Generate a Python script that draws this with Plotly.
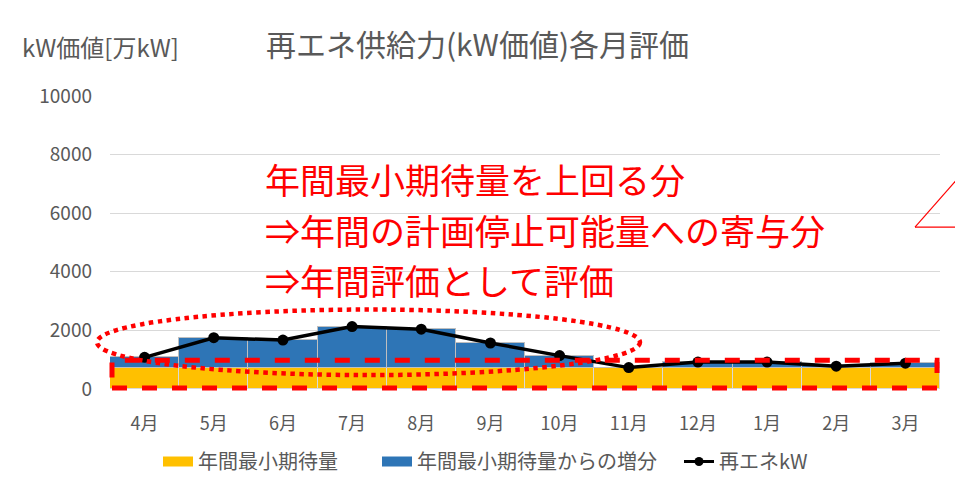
import plotly.graph_objects as go

months = ["4月", "5月", "6月", "7月", "8月", "9月", "10月", "11月", "12月", "1月", "2月", "3月"]
renewable_kw = [1080, 1750, 1670, 2130, 2040, 1570, 1140, 730, 920, 920, 780, 880]
annual_min = [min(renewable_kw)] * len(months)
increase = [max(v - m, 0) for v, m in zip(renewable_kw, annual_min)]
y_ticks = [0, 2000, 4000, 6000, 8000, 10000]
y_ticktext = ["0", "2000", "4000", "6000", "8000", "10000"]

FONT = "Noto Sans CJK JP"
GRAY = "#595959"
GOLD = "#FFC000"
BLUE = "#2E75B6"

def px(x):
    return (x - 110) / 830

def py(y):
    return (392 - y) / 295

fig = go.Figure()
fig.add_bar(x=months, y=annual_min, name="年間最小期待量", showlegend=False,
            marker=dict(color=GOLD, line=dict(color="#D9D9D9", width=1.5)))
fig.add_bar(x=months, y=increase, name="年間最小期待量からの増分", showlegend=False,
            marker=dict(color=BLUE, line=dict(color="#BFBFBF", width=1.5)))
fig.add_scatter(x=months, y=renewable_kw, name="再エネkW", mode="lines+markers", showlegend=False,
                line=dict(color="black", width=3.5), marker=dict(color="black", size=11))
# legend proxies, each in its own legend box
fig.add_scatter(x=[None], y=[None], name="年間最小期待量", mode="lines", legend="legend",
                line=dict(color=GOLD, width=10))
fig.add_scatter(x=[None], y=[None], name="年間最小期待量からの増分", mode="lines", legend="legend2",
                line=dict(color=BLUE, width=10))
fig.add_scatter(x=[None], y=[None], name="再エネkW", mode="lines+markers", legend="legend3",
                line=dict(color="black", width=3), marker=dict(color="black", size=9))

shapes = [
    dict(type="circle", xref="paper", yref="paper", x0=px(97), x1=px(640), y0=py(378), y1=py(312),
         line=dict(color="#FF0000", width=4.5, dash="dot")),
    dict(type="rect", xref="paper", yref="paper", x0=px(112), x1=px(937), y0=py(391), y1=py(363),
         line=dict(color="#FF0000", width=5, dash="dash")),
    dict(type="line", xref="paper", yref="paper", x0=px(915), x1=px(957), y0=py(229), y1=py(181),
         line=dict(color="#FF0000", width=1.2)),
    dict(type="line", xref="paper", yref="paper", x0=px(915), x1=px(957), y0=py(229), y1=py(229),
         line=dict(color="#FF0000", width=1.2)),
]

red_lines = [("年間最小期待量を上回る分", 180), ("⇒年間の計画停止可能量への寄与分", 231), ("⇒年間評価として評価", 282)]
annotations = [dict(text=t, xref="paper", yref="paper", x=px(263), y=py(y), xanchor="left", yanchor="middle",
                    showarrow=False, font=dict(family=FONT, size=35, color="#FF0000")) for t, y in red_lines]
annotations.append(dict(text="kW価値[万kW]", xref="paper", yref="paper", x=px(20), y=py(47),
                        xanchor="left", yanchor="middle", showarrow=False,
                        font=dict(family=FONT, size=24, color=GRAY)))

legend_common = dict(orientation="h", y=py(465), yanchor="middle", xanchor="left",
                     font=dict(size=20, color=GRAY, family=FONT), bgcolor="rgba(0,0,0,0)")

fig.update_layout(
    width=955, height=493,
    margin=dict(l=110, r=15, t=96, b=101),
    barmode="stack", bargap=0,
    plot_bgcolor="white", paper_bgcolor="white",
    font=dict(family=FONT, color=GRAY),
    title=dict(text="再エネ供給力(kW価値)各月評価", x=(265 + 690) / 2 / 955, xanchor="center",
               y=1 - 45 / 493, yanchor="middle", font=dict(family=FONT, size=30, color=GRAY)),
    xaxis=dict(range=[-0.5, 11.5], showgrid=False, tickfont=dict(size=18, color=GRAY), ticks="",
               showline=False, ticklabelstandoff=22),
    yaxis=dict(range=[0, 10000], tickvals=y_ticks, ticktext=y_ticktext, showgrid=True,
               gridcolor="#D9D9D9", gridwidth=1, zeroline=False,
               tickfont=dict(size=19, color=GRAY), ticklabelstandoff=17),
    legend=dict(x=px(158), **legend_common),
    legend2=dict(x=px(377), **legend_common),
    legend3=dict(x=px(679), **legend_common),
    shapes=shapes, annotations=annotations,
)

fig.write_html("out.html")
